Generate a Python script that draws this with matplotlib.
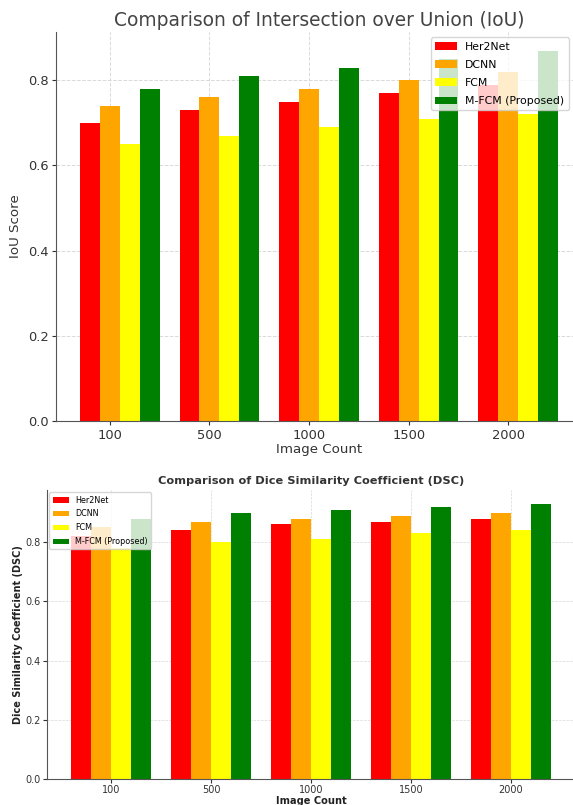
import numpy as np
import matplotlib
matplotlib.use("Agg")
import matplotlib.pyplot as plt

# data
image_counts = ["100", "500", "1000", "1500", "2000"]
methods = ["Her2Net", "DCNN", "FCM", "M-FCM (Proposed)"]
colors = ["red", "orange", "yellow", "green"]

iou_her2net = [0.70, 0.73, 0.75, 0.77, 0.79]
iou_dcnn = [0.74, 0.76, 0.78, 0.80, 0.82]
iou_fcm = [0.65, 0.67, 0.69, 0.71, 0.72]
iou_mfcm = [0.78, 0.81, 0.83, 0.85, 0.87]

dsc_her2net = [0.82, 0.84, 0.86, 0.87, 0.88]
dsc_dcnn = [0.85, 0.87, 0.88, 0.89, 0.90]
dsc_fcm = [0.78, 0.80, 0.81, 0.83, 0.84]
dsc_mfcm = [0.88, 0.90, 0.91, 0.92, 0.93]

W, H = 573, 805
fig = plt.figure(figsize=(W / 100, H / 100), dpi=100)

def style_axes(ax, tick_size, grid_lw, pad):
    ax.spines["top"].set_visible(False)
    ax.spines["right"].set_visible(False)
    ax.spines["left"].set_color("#555555")
    ax.spines["bottom"].set_color("#555555")
    ax.grid(True, linestyle="--", color="#d9d9d9", linewidth=grid_lw)
    ax.set_axisbelow(True)
    ax.tick_params(labelsize=tick_size, colors="#333333", length=3, pad=pad)

x = np.arange(len(image_counts))
width = 0.2

# top chart - IoU
ax1 = fig.add_axes([56 / W, (H - 421) / H, 526 / W, 389 / H])
iou = [iou_her2net, iou_dcnn, iou_fcm, iou_mfcm]
for i in range(4):
    ax1.bar(x + (i - 1) * width, iou[i], width, label=methods[i], color=colors[i])
ax1.set_xticks(x)
ax1.set_xticklabels(image_counts)
style_axes(ax1, 9.4, 0.7, 2.5)
ax1.set_title("Comparison of Intersection over Union (IoU)", fontsize=13.4, color="#444444", pad=4)
ax1.set_xlabel("Image Count", fontsize=9.6, color="#333333", labelpad=1)
ax1.set_ylabel("IoU Score", fontsize=9.6, color="#333333")
ax1.legend(loc="upper right", fontsize=7.8, borderaxespad=0.5, labelspacing=0.75,
           bbox_to_anchor=(0.985, 1.0))

# bottom chart - DSC
ax2 = fig.add_axes([47 / W, (H - 779) / H, 528 / W, 289 / H])
dsc = [dsc_her2net, dsc_dcnn, dsc_fcm, dsc_mfcm]
for i in range(4):
    ax2.bar(x + (i - 1.5) * width, dsc[i], width, label=methods[i], color=colors[i])
ax2.set_xticks(x)
ax2.set_xticklabels(image_counts)
style_axes(ax2, 7.0, 0.5, 1.5)
ax2.set_title("Comparison of Dice Similarity Coefficient (DSC)", fontsize=8.2,
              fontweight="bold", color="#333333", pad=4)
ax2.set_xlabel("Image Count", fontsize=7.1, fontweight="bold", color="#222222", labelpad=0.5)
ax2.set_ylabel("Dice Similarity Coefficient (DSC)", fontsize=7.0, fontweight="bold",
               color="#222222", labelpad=2)
ax2.legend(loc="upper left", fontsize=5.8, borderaxespad=0.3, labelspacing=0.6)

fig.savefig("out.png", dpi=100)
